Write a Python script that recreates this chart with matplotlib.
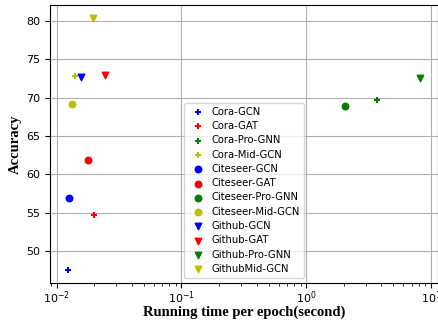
import matplotlib
matplotlib.use("Agg")
import matplotlib.pyplot as plt

labels = ["Cora-GCN", "Cora-GAT", "Cora-Pro-GNN", "Cora-Mid-GCN",
          "Citeseer-GCN", "Citeseer-GAT", "Citeseer-Pro-GNN", "Citeseer-Mid-GCN",
          "Github-GCN", "Github-GAT", "Github-Pro-GNN", "GithubMid-GCN"]
times = [0.01225, 0.0201, 3.70, 0.0141,
         0.0126, 0.0180, 2.06, 0.0134,
         0.0156, 0.0242, 8.21, 0.0195]
accs = [47.5, 54.7, 69.75, 72.9,
        56.97, 61.9, 68.96, 69.13,
        72.75, 73.0, 72.6, 80.45]
colors = ["b", "r", "g", "y"] * 3
markers = ["+"] * 4 + ["o"] * 4 + ["v"] * 4

fig = plt.figure(figsize=(4.39, 3.23), dpi=100)
ax = fig.add_axes([50/439, 1-283/323, 388/439, 278/323])
for lab, t, a, c, m in zip(labels, times, accs, colors, markers):
    ax.scatter([t], [a], c=c, marker=m, s=22, label=lab, zorder=3)
ax.set_xscale("log")
ax.grid(True, which="major", color="#b0b0b0", linewidth=0.8)
ax.tick_params(labelsize=8)
ax.tick_params(axis="x", which="major", pad=1)
ax.set_xlabel("Running time per epoch(second)", fontfamily="Liberation Serif",
              fontweight="bold", fontsize=10.5, labelpad=0)
ax.set_ylabel("Accuracy", fontfamily="Liberation Serif", fontweight="bold",
              fontsize=10.5, labelpad=3)
ax.legend(loc="lower center", fontsize=7.2, handletextpad=0.4, labelspacing=0.43)
fig.savefig("out.png", dpi=100)
